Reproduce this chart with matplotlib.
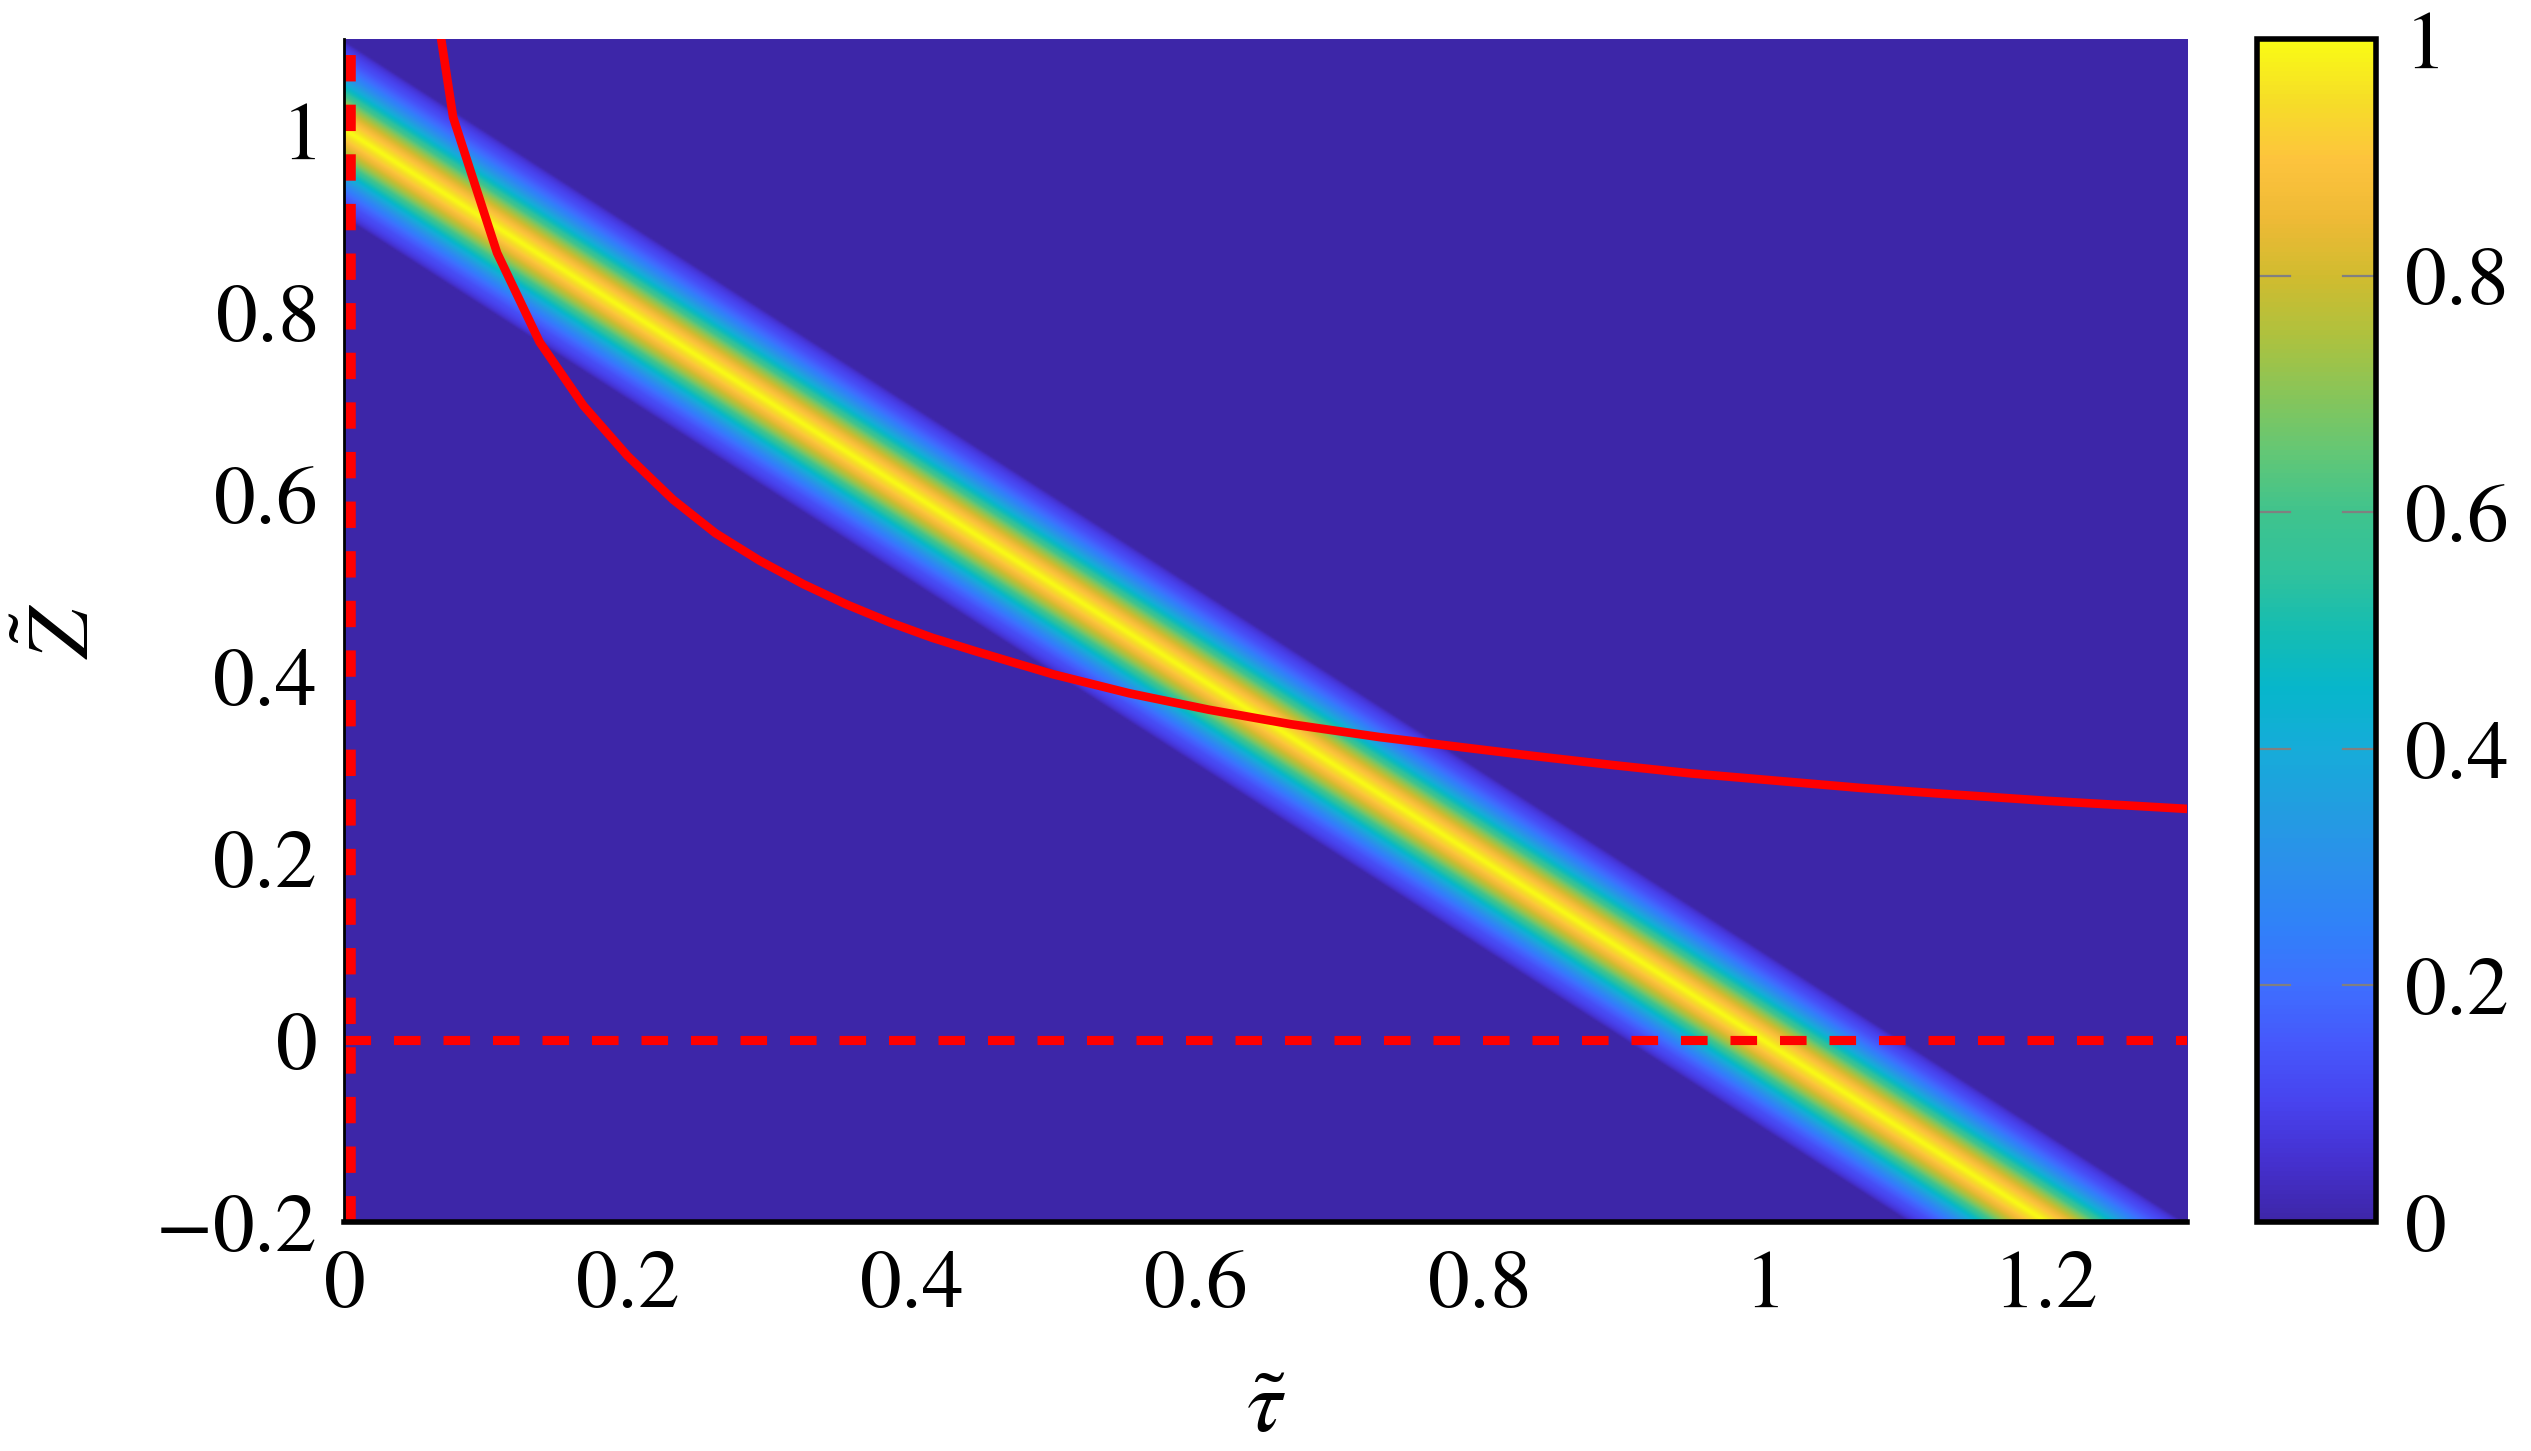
import numpy as np
import matplotlib
matplotlib.use("Agg")
import matplotlib.pyplot as plt
from matplotlib.colors import LinearSegmentedColormap
from matplotlib.ticker import FuncFormatter

# parula-like colour map (MATLAB default)
parula_colors = [
    (0.2422, 0.1504, 0.6603), (0.2691, 0.1890, 0.8110), (0.2810, 0.2631, 0.9353),
    (0.2744, 0.3446, 0.9856), (0.2440, 0.4358, 0.9988), (0.1888, 0.5072, 0.9752),
    (0.1700, 0.5620, 0.9240), (0.1334, 0.6179, 0.8785), (0.0848, 0.6741, 0.8506),
    (0.0262, 0.7134, 0.7968), (0.0800, 0.7400, 0.7000), (0.1900, 0.7600, 0.6100),
    (0.2473, 0.7650, 0.5535), (0.3843, 0.7799, 0.4631), (0.5316, 0.7729, 0.3488),
    (0.6819, 0.7584, 0.2442), (0.8167, 0.7338, 0.1847), (0.9356, 0.7288, 0.2117),
    (0.9924, 0.7665, 0.2391), (0.9636, 0.8694, 0.1542), (0.9769, 0.9839, 0.0805),
]
parula = LinearSegmentedColormap.from_list("parula", parula_colors, N=256)

# band: centre line and cross-section
band_tau = [0.0, 1.3]
band_z = [1.0, -0.3]
profile_offset = [0.0, 0.01, 0.02, 0.03, 0.04, 0.05, 0.06, 0.07, 0.08, 0.09, 0.094, 0.097]
profile_level = [1.0, 0.92, 0.82, 0.70, 0.55, 0.41, 0.29, 0.20, 0.13, 0.08, 0.05, 0.0]

# red curve
curve_tau = [0.046, 0.077, 0.108, 0.138, 0.169, 0.200, 0.232, 0.262, 0.293, 0.324,
             0.354, 0.385, 0.415, 0.446, 0.50, 0.554, 0.61, 0.668, 0.73, 0.782,
             0.84, 0.896, 0.95, 1.01, 1.07, 1.124, 1.2, 1.3]
curve_z = [1.33, 1.014, 0.865, 0.767, 0.697, 0.642, 0.594, 0.557, 0.527, 0.501,
           0.479, 0.459, 0.442, 0.427, 0.402, 0.381, 0.363, 0.347, 0.333, 0.323,
           0.312, 0.302, 0.293, 0.285, 0.277, 0.271, 0.263, 0.254]

x_ticks = [0, 0.2, 0.4, 0.6, 0.8, 1.0, 1.2]
y_ticks = [-0.2, 0, 0.2, 0.4, 0.6, 0.8, 1.0]
cb_ticks = [0, 0.2, 0.4, 0.6, 0.8, 1.0]

plt.rcParams["font.family"] = ["Liberation Serif", "DejaVu Serif"]
plt.rcParams["mathtext.fontset"] = "stix"

fig = plt.figure(figsize=(12.655, 7.255), dpi=200)
ax = fig.add_axes([0.1359, 0.1578, 0.7282, 0.8153])
cax = fig.add_axes([0.8917, 0.1578, 0.0470, 0.8153])

tt = np.linspace(0, 1.3, 700)
zz = np.linspace(-0.2, 1.1, 700)
T, Zg = np.meshgrid(tt, zz)
centre = np.interp(T, band_tau, band_z)
field = np.interp(np.abs(Zg - centre), profile_offset, profile_level)

im = ax.imshow(field, extent=[0, 1.3, -0.2, 1.1], origin="lower", aspect="auto",
               cmap=parula, vmin=0, vmax=1, interpolation="bilinear")

ax.plot(curve_tau, curve_z, color="red", lw=3.1)
ax.plot([0.004, 0.004], [-0.2, 1.1], color="red", lw=3.8, dashes=(2.5, 2.2))
ax.plot([0, 1.3], [0, 0], color="red", lw=3.3, dashes=(2.9, 2.5))

ax.set_xlim(0, 1.3)
ax.set_ylim(-0.2, 1.1)
fmt = FuncFormatter(lambda v, p: "$%s$" % ("%g" % v))
ax.set_xticks(x_ticks)
ax.set_yticks(y_ticks)
ax.xaxis.set_major_formatter(fmt)
ax.yaxis.set_major_formatter(fmt)
ax.tick_params(length=0, labelsize=30, pad=10)
for s in ["top", "right"]:
    ax.spines[s].set_visible(False)
ax.spines["left"].set_linewidth(1.0)
ax.spines["bottom"].set_linewidth(2.0)

ax.set_xlabel(r"$\tilde{\tau}$", fontsize=32, labelpad=16)
ax.set_ylabel(r"$\tilde{Z}$", fontsize=32)
ax.yaxis.set_label_coords(-0.128, 0.5)

cb = fig.colorbar(im, cax=cax)
cb.set_ticks(cb_ticks)
cb.ax.yaxis.set_major_formatter(fmt)
cb.ax.tick_params(length=0, labelsize=30, pad=10)
cb.outline.set_linewidth(2.0)
for v in cb_ticks[1:-1]:
    cax.plot([0, 0.28], [v, v], color="0.5", lw=0.8)
    cax.plot([0.72, 1], [v, v], color="0.5", lw=0.8)

fig.savefig("out.png", dpi=200)
